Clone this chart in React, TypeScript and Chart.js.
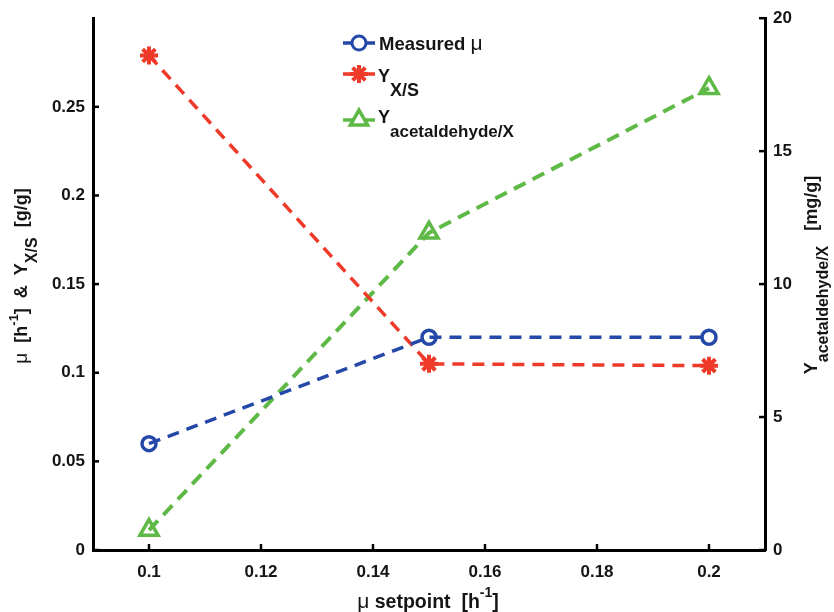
import React, { useEffect, useRef } from 'react';
import { Chart, registerables } from 'chart.js';

Chart.register(...registerables);

// ---- data ----
const setpoints = [0.1, 0.15, 0.2];
const measuredMu = [0.06, 0.12, 0.12];
const yieldXS = [0.279, 0.105, 0.104];
const yieldAcetaldehyde = [0.75, 11.93, 17.37];

const xTicks = [0.1, 0.12, 0.14, 0.16, 0.18, 0.2];
const leftTicks = [0, 0.05, 0.1, 0.15, 0.2, 0.25];
const rightTicks = [0, 5, 10, 15, 20];

const seriesLabels = ['Measured μ', 'Y X/S', 'Y acetaldehyde/X'];

// ---- styles ----
const BLUE = '#2448a8';
const RED = '#ef3a2a';
const GREEN = '#5fb946';
const FAM = '"Liberation Sans", Arial, Helvetica, sans-serif';
const TXT = '#151515';

type Part = { t: string; size?: number; dy?: number; weight?: string };

function fontOf(p: Part, base: number) {
  return `${p.weight ?? 'bold'} ${p.size ?? base}px ${FAM}`;
}

function drawRich(
  ctx: CanvasRenderingContext2D,
  parts: Part[],
  x: number,
  y: number,
  rot: number,
  align: 'center' | 'left',
  base = 17
) {
  ctx.save();
  ctx.translate(x, y);
  if (rot) ctx.rotate(rot);
  ctx.fillStyle = TXT;
  ctx.textBaseline = 'alphabetic';
  ctx.textAlign = 'left';
  const widths = parts.map((p) => {
    ctx.font = fontOf(p, base);
    return ctx.measureText(p.t).width;
  });
  const total = widths.reduce((a, b) => a + b, 0);
  let cx = align === 'center' ? -total / 2 : 0;
  parts.forEach((p, i) => {
    ctx.font = fontOf(p, base);
    ctx.fillText(p.t, cx, p.dy ?? 0);
    cx += widths[i];
  });
  ctx.restore();
}

function marker(ctx: CanvasRenderingContext2D, style: string, x: number, y: number, r: number, color: string, lw: number) {
  ctx.save();
  ctx.strokeStyle = color;
  ctx.lineWidth = lw;
  ctx.setLineDash([]);
  ctx.beginPath();
  if (style === 'circle') {
    ctx.arc(x, y, r, 0, Math.PI * 2);
  } else if (style === 'triangle') {
    let rad = 0;
    const T = (2 * Math.PI) / 3;
    ctx.moveTo(x + Math.sin(rad) * r, y - Math.cos(rad) * r);
    rad += T;
    ctx.lineTo(x + Math.sin(rad) * r, y - Math.cos(rad) * r);
    rad += T;
    ctx.lineTo(x + Math.sin(rad) * r, y - Math.cos(rad) * r);
    ctx.closePath();
  } else {
    for (let k = 0; k < 4; k++) {
      const a = (k * Math.PI) / 4;
      ctx.moveTo(x - Math.cos(a) * r, y - Math.sin(a) * r);
      ctx.lineTo(x + Math.cos(a) * r, y + Math.sin(a) * r);
    }
  }
  ctx.stroke();
  ctx.restore();
}

const decorPlugin = {
  id: 'decor',
  afterDraw(chart: any) {
    const ctx: CanvasRenderingContext2D = chart.ctx;
    const { x, y, y2 } = chart.scales;
    const area = chart.chartArea;
    ctx.save();
    ctx.strokeStyle = '#000';
    ctx.lineWidth = 2.5;
    ctx.setLineDash([]);
    const L = 6;
    xTicks.forEach((v) => {
      const px = x.getPixelForValue(v);
      ctx.beginPath();
      ctx.moveTo(px, area.bottom);
      ctx.lineTo(px, area.bottom - L);
      ctx.stroke();
    });
    leftTicks.forEach((v) => {
      const py = y.getPixelForValue(v);
      ctx.beginPath();
      ctx.moveTo(area.left, py);
      ctx.lineTo(area.left + L, py);
      ctx.stroke();
    });
    rightTicks.forEach((v) => {
      const py = y2.getPixelForValue(v);
      ctx.beginPath();
      ctx.moveTo(area.right, py);
      ctx.lineTo(area.right - L, py);
      ctx.stroke();
    });
    ctx.restore();

    // axis titles
    drawRich(
      ctx,
      [
        { t: 'μ', weight: 'normal', size: 19 },
        { t: '  [h' },
        { t: '-1', size: 13, dy: -9 },
        { t: ']  &  Y' },
        { t: 'X/S', size: 16, dy: 10 },
        { t: '  [g/g]' },
      ],
      27,
      276,
      -Math.PI / 2,
      'center',
      18
    );
    drawRich(
      ctx,
      [
        { t: 'Y' },
        { t: 'acetaldehyde/X', size: 16, dy: 11 },
        { t: '   [mg/g]' },
      ],
      817,
      275,
      -Math.PI / 2,
      'center',
      18
    );
    drawRich(
      ctx,
      [
        { t: 'μ', weight: 'normal', size: 21 },
        { t: ' setpoint  [h' },
        { t: '-1', size: 14, dy: -11 },
        { t: ']' },
      ],
      428,
      608,
      0,
      'center',
      19.5
    );

    // legend
    const lx1 = 343, lx2 = 375, mx = 359;
    const rows = [
      { yy: 43, color: BLUE, style: 'circle', r: 7, lw: 3 },
      { yy: 74, color: RED, style: 'star', r: 9, lw: 4 },
      { yy: 120, color: GREEN, style: 'triangle', r: 10, lw: 3.5 },
    ];
    rows.forEach((row) => {
      ctx.save();
      ctx.strokeStyle = row.color;
      ctx.lineWidth = 3.5;
      ctx.beginPath();
      ctx.moveTo(lx1, row.yy);
      ctx.lineTo(mx - 6, row.yy);
      ctx.moveTo(mx + 6, row.yy);
      ctx.lineTo(lx2, row.yy);
      ctx.stroke();
      ctx.restore();
      marker(ctx, row.style, mx, row.yy, row.r, row.color, row.lw);
    });
    drawRich(ctx, [{ t: 'Measured ' }, { t: 'μ', weight: 'normal', size: 21 }], 379, 50, 0, 'left', 18.5);
    drawRich(ctx, [{ t: 'Y' }, { t: 'X/S', dy: 14 }], 378, 82, 0, 'left', 18);
    drawRich(ctx, [{ t: 'Y' }, { t: 'acetaldehyde/X', dy: 14, size: 17 }], 378, 123, 0, 'left', 18);
  },
};

export default function App() {
  const ref = useRef<HTMLCanvasElement | null>(null);

  useEffect(() => {
    if (!ref.current) return;
    const tickFont = { family: FAM, size: 17, weight: 'bold' as const };
    const pts = (ys: number[]) => setpoints.map((xv, i) => ({ x: xv, y: ys[i] }));
    const chart = new Chart(ref.current, {
      type: 'line',
      data: {
        datasets: [
          {
            label: seriesLabels[0],
            data: pts(measuredMu),
            yAxisID: 'y',
            borderColor: BLUE,
            backgroundColor: 'rgba(0,0,0,0)',
            pointBorderColor: BLUE,
            pointBackgroundColor: 'rgba(0,0,0,0)',
            borderWidth: 3.5,
            borderDash: [12, 8],
            pointStyle: 'circle',
            pointRadius: 7,
            pointBorderWidth: 3.5,
            tension: 0,
            fill: false,
          },
          {
            label: seriesLabels[1],
            data: pts(yieldXS),
            yAxisID: 'y',
            borderColor: RED,
            backgroundColor: 'rgba(0,0,0,0)',
            pointBorderColor: RED,
            pointBackgroundColor: RED,
            borderWidth: 3.5,
            borderDash: [12, 8],
            pointStyle: 'star',
            pointRadius: 9,
            pointBorderWidth: 4,
            tension: 0,
            fill: false,
          },
          {
            label: seriesLabels[2],
            data: pts(yieldAcetaldehyde),
            yAxisID: 'y2',
            borderColor: GREEN,
            backgroundColor: 'rgba(0,0,0,0)',
            pointBorderColor: GREEN,
            pointBackgroundColor: 'rgba(0,0,0,0)',
            borderWidth: 4,
            borderDash: [13, 8],
            pointStyle: 'triangle',
            pointRadius: 10.5,
            pointBorderWidth: 3.5,
            tension: 0,
            fill: false,
          },
        ],
      },
      options: {
        responsive: false,
        animation: false,
        devicePixelRatio: 1,
        layout: { padding: { top: 17, left: 0, right: 0, bottom: 0 } },
        plugins: { legend: { display: false }, tooltip: { enabled: false } },
        scales: {
          x: {
            type: 'linear',
            position: 'bottom',
            min: 0.09,
            max: 0.21,
            afterBuildTicks: (s: any) => {
              s.ticks = xTicks.map((v) => ({ value: v }));
            },
            afterFit: (s: any) => {
              s.height = 62;
            },
            grid: { display: false, drawTicks: false },
            border: { display: true, color: '#000', width: 3 },
            ticks: {
              font: tickFont,
              color: TXT,
              padding: 12,
              autoSkip: false,
              maxRotation: 0,
              callback: (v: any) => String(v),
            },
          },
          y: {
            type: 'linear',
            position: 'left',
            min: 0,
            max: 0.3,
            afterBuildTicks: (s: any) => {
              s.ticks = leftTicks.map((v) => ({ value: v }));
            },
            afterFit: (s: any) => {
              s.width = 93;
            },
            grid: { display: false, drawTicks: false },
            border: { display: true, color: '#000', width: 3 },
            ticks: {
              font: tickFont,
              color: TXT,
              padding: 8,
              autoSkip: false,
              callback: (v: any) => String(v),
            },
          },
          y2: {
            type: 'linear',
            position: 'right',
            min: 0,
            max: 20,
            afterBuildTicks: (s: any) => {
              s.ticks = rightTicks.map((v) => ({ value: v }));
            },
            afterFit: (s: any) => {
              s.width = 69;
            },
            grid: { display: false, drawTicks: false },
            border: { display: true, color: '#000', width: 3 },
            ticks: {
              font: tickFont,
              color: TXT,
              padding: 8,
              autoSkip: false,
              callback: (v: any) => String(v),
            },
          },
        },
      },
      plugins: [decorPlugin],
    } as any);
    return () => chart.destroy();
  }, []);

  return (
    <div style={{ position: 'fixed', left: 0, top: 0, width: 834, height: 612, background: '#fff' }}>
      <canvas ref={ref} width={834} height={612} style={{ display: 'block', width: 834, height: 612 }} />
    </div>
  );
}
